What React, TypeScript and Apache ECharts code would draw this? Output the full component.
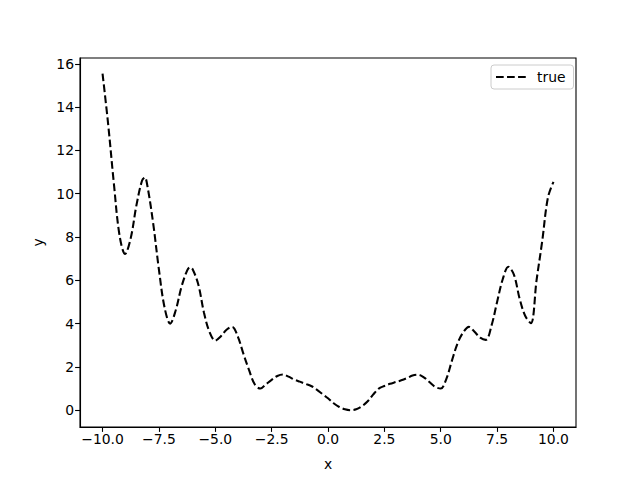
import React, { useEffect, useRef } from "react";
import * as echarts from "echarts";

const xValues: number[] = [
  -10, -9.75, -9.5, -9.25, -9, -8.75, -8.5, -8.25, -8.125, -8, -7.75,
  -7.5, -7.25, -7, -6.75, -6.5, -6.25, -6.125, -6, -5.75, -5.5, -5.25,
  -5, -4.75, -4.5, -4.25, -4, -3.75, -3.5, -3.25, -3, -2.75,
  -2.5, -2.25, -2, -1.75, -1.5, -1.25, -1, -0.75, -0.5, -0.25,
  0, 0.25, 0.5, 0.75, 1, 1.25, 1.5, 1.75, 2, 2.25,
  2.5, 2.75, 3, 3.25, 3.5, 3.75, 4, 4.25, 4.5, 4.75,
  5, 5.25, 5.5, 5.75, 6, 6.25, 6.5, 6.75, 7, 7.25,
  7.5, 7.75, 8, 8.25, 8.5, 8.75, 9, 9.25, 9.5, 9.75, 10,
];

const trueValues: number[] = [
  15.55, 13.2, 10.5, 8.1, 7.22, 7.95, 9.45, 10.6, 10.75, 10.3, 8.6,
  6.5, 4.75, 4.0, 4.63, 5.7, 6.45, 6.6, 6.5, 5.8, 4.5, 3.6,
  3.22, 3.42, 3.72, 3.85, 3.4, 2.6, 1.85, 1.2, 1.0, 1.2,
  1.4, 1.58, 1.65, 1.55, 1.42, 1.32, 1.22, 1.12, 0.95, 0.75,
  0.55, 0.32, 0.15, 0.04, 0.0, 0.04, 0.18, 0.4, 0.72, 1.0,
  1.12, 1.22, 1.3, 1.38, 1.48, 1.6, 1.64, 1.52, 1.3, 1.08,
  1.0, 1.45, 2.3, 3.1, 3.6, 3.85, 3.62, 3.35, 3.25, 3.9,
  5.0, 6.05, 6.63, 6.25, 5.15, 4.35, 4.02, 6.0, 7.8, 9.8, 10.55,
];

const xTicks: number[] = [-10, -7.5, -5, -2.5, 0, 2.5, 5, 7.5, 10];
const yTicks: number[] = [0, 2, 4, 6, 8, 10, 12, 14, 16];

const seriesName = "true";
const FONT = "DejaVu Sans";
const FS = 13.9;

const fmtX = (v: number) => v.toFixed(1).replace("-", "\u2212");
const fmtY = (v: number) => String(Math.round(v)).replace("-", "\u2212");

export default function App() {
  const ref = useRef<HTMLDivElement>(null);
  useEffect(() => {
    if (!ref.current) return;
    const chart = echarts.init(ref.current, undefined, { renderer: "svg" });
    const data = xValues.map((x, i) => [x, trueValues[i]]);
    chart.setOption({
      animation: false,
      backgroundColor: "#ffffff",
      textStyle: { fontFamily: FONT },
      grid: {
        left: 80,
        right: 64,
        top: 58,
        bottom: 53,
        show: true,
        borderColor: "#000",
        borderWidth: 1.1,
        backgroundColor: "transparent",
      },
      legend: {
        data: [seriesName],
        left: 491,
        top: 65,
        padding: [5, 8, 5, 4],
        itemWidth: 31,
        itemHeight: 14,
        itemStyle: { opacity: 0 },
        backgroundColor: "#fff",
        borderColor: "#cccccc",
        borderWidth: 1,
        borderRadius: 3,
        textStyle: { fontFamily: FONT, fontSize: FS, color: "#000", padding: [0, 0, 0, 5] },
      },
      xAxis: {
        type: "value",
        min: -11,
        max: 11,
        name: "x",
        nameLocation: "middle",
        nameGap: 30,
        nameTextStyle: { fontFamily: FONT, fontSize: FS, color: "#000" },
        axisLine: { show: true, onZero: false, lineStyle: { color: "#000", width: 1.1 } },
        axisTick: { show: true, inside: false, length: 4.9, customValues: xTicks, lineStyle: { color: "#000", width: 1.1 } },
        axisLabel: {
          customValues: xTicks,
          formatter: (v: number) => fmtX(v),
          fontFamily: FONT,
          fontSize: FS,
          color: "#000",
          margin: 5,
        },
        splitLine: { show: false },
      },
      yAxis: {
        type: "value",
        min: -0.775,
        max: 16.27,
        name: "y",
        nameLocation: "middle",
        nameGap: 33,
        nameTextStyle: { fontFamily: FONT, fontSize: FS, color: "#000" },
        axisLine: { show: true, onZero: false, lineStyle: { color: "#000", width: 1.1 } },
        axisTick: { show: true, inside: false, length: 4.9, customValues: yTicks, lineStyle: { color: "#000", width: 1.1 } },
        axisLabel: {
          customValues: yTicks,
          formatter: (v: number) => fmtY(v),
          fontFamily: FONT,
          fontSize: FS,
          color: "#000",
          margin: 6,
        },
        splitLine: { show: false },
      },
      series: [
        {
          name: seriesName,
          type: "line",
          data,
          smooth: 0.35,
          symbol: "none",
          showSymbol: false,
          lineStyle: { color: "#000", width: 2.08, type: [7.7, 3.33] },
          itemStyle: { color: "#000" },
        },
      ],
    });
    return () => chart.dispose();
  }, []);
  return <div ref={ref} style={{ width: 640, height: 480, margin: -8 }} />;
}
